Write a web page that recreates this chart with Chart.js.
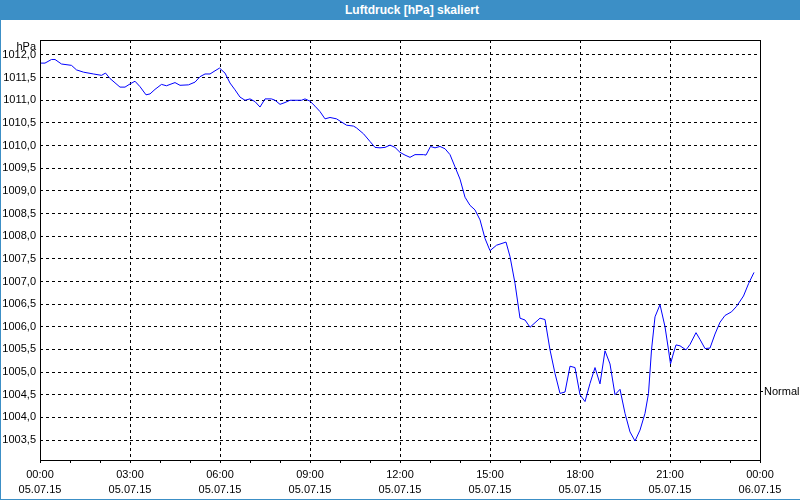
<!DOCTYPE html>
<html>
<head>
<meta charset="utf-8">
<script src="https://cdn.jsdelivr.net/npm/chart.js@4/dist/chart.umd.min.js"></script>
<style>
    body { margin: 0; background: #ffffff; }
    #wrap { position: relative; width: 800px; height: 500px; background: #ffffff; overflow: hidden; }
    #titlebar {
        position: absolute; left: 0; top: 0; width: 800px; height: 20px;
        background: #3c8fc6; color: #ffffff; text-align: center;
        font: bold 12px 'Liberation Sans', Arial, sans-serif; line-height: 20px;
        box-sizing: border-box; padding-left: 24px;
    }
    #myChart { position: absolute; left: 0; top: 20px; }
    #edgeLeft { position: absolute; left: 0; top: 20px; width: 1px; height: 480px; background: #3c8fc6; }
    #edgeBottom { position: absolute; left: 0; top: 499px; width: 800px; height: 1px; background: #3c8fc6; }
</style>
</head>
<body>
<div id="wrap">
    <div id="titlebar">Luftdruck [hPa] skaliert</div>
    <canvas id="myChart" width="800" height="479"></canvas>
    <div id="edgeLeft"></div>
    <div id="edgeBottom"></div>
</div>
<script>
// minutes since 05.07.15 00:00
var minutes = [
    0, 10, 23, 30, 43, 63, 73, 87, 107, 123, 131, 140, 160, 170, 180, 190, 200, 212, 220, 230,
    243, 253, 270, 280, 297, 310, 320, 330, 340, 350, 359,
    370, 380, 390, 400, 410, 420, 430, 440, 450, 463, 470, 480, 490, 500, 523, 530, 540, 550,
    560, 570, 580, 593, 603, 613, 627, 633, 647, 660, 670, 680, 690, 700, 710, 720,
    730, 740, 750, 767, 772, 781, 790, 800, 810, 820, 830, 840, 850, 860, 870, 880, 890, 900,
    913, 932, 940, 950, 960, 970, 980, 990, 1000, 1010, 1020, 1030, 1040, 1050, 1060, 1070, 1080,
    1090, 1100, 1110, 1120, 1130, 1140, 1150, 1160, 1170, 1180, 1190, 1200, 1210, 1217, 1223,
    1230, 1240, 1250, 1257, 1261, 1267, 1272, 1280, 1292, 1300, 1312, 1320, 1330, 1340, 1350,
    1360, 1370, 1383, 1393, 1407, 1417, 1428
];
var pressure = [
    1011.82, 1011.82, 1011.90, 1011.90, 1011.80, 1011.77, 1011.67, 1011.62, 1011.58, 1011.55,
    1011.60, 1011.48, 1011.29, 1011.29, 1011.36, 1011.42, 1011.30, 1011.12, 1011.14, 1011.24,
    1011.35, 1011.32, 1011.39, 1011.33, 1011.34, 1011.40, 1011.52, 1011.58, 1011.58, 1011.65, 1011.71,
    1011.60, 1011.38, 1011.23, 1011.07, 1011.00, 1011.03, 1010.97, 1010.85, 1011.03, 1011.03,
    1011.00, 1010.91, 1010.95, 1011.00, 1011.00, 1011.03, 1010.98, 1010.87,
    1010.75, 1010.59, 1010.62, 1010.59, 1010.52, 1010.45, 1010.43, 1010.39, 1010.26, 1010.09,
    1009.96, 1009.95, 1009.96, 1010.01, 1009.96, 1009.85,
    1009.79, 1009.74, 1009.80, 1009.80, 1009.79, 1009.98, 1009.95, 1009.98, 1009.93, 1009.80,
    1009.53, 1009.26, 1008.86, 1008.68, 1008.58, 1008.36, 1007.95, 1007.68,
    1007.80, 1007.87, 1007.55, 1006.96, 1006.19, 1006.15, 1005.99, 1006.09, 1006.19, 1006.16,
    1005.49, 1004.97, 1004.53, 1004.56, 1005.13, 1005.10, 1004.50,
    1004.35, 1004.75, 1005.10, 1004.74, 1005.47, 1005.18, 1004.50, 1004.62, 1004.09, 1003.68,
    1003.48, 1003.72, 1004.09, 1004.53, 1005.49,
    1006.22, 1006.49, 1006.00, 1005.49, 1005.18, 1005.42, 1005.60, 1005.58, 1005.49, 1005.61,
    1005.87, 1005.72, 1005.52, 1005.53, 1005.84,
    1006.10, 1006.25, 1006.33, 1006.45, 1006.68, 1006.95, 1007.20
];

// axis ticks
var yTicks = [1003.5, 1004.0, 1004.5, 1005.0, 1005.5, 1006.0, 1006.5, 1007.0, 1007.5,
    1008.0, 1008.5, 1009.0, 1009.5, 1010.0, 1010.5, 1011.0, 1011.5, 1012.0];
var yMin = 1003.06;
var yMax = 1012.33;
var xTimes = ['00:00', '03:00', '06:00', '09:00', '12:00', '15:00', '18:00', '21:00', '00:00'];
var xDates = ['05.07.15', '05.07.15', '05.07.15', '05.07.15', '05.07.15', '05.07.15', '05.07.15', '05.07.15', '06.07.15'];
var normalValue = 1004.57;
var normalLabel = 'Normal';
var unitLabel = 'hPa';

var points = [];
for (var i = 0; i < minutes.length; i++) {
    points.push({x: minutes[i], y: pressure[i]});
}

Chart.defaults.font.family = "'Liberation Sans', Arial, sans-serif";
Chart.defaults.font.size = 11;
Chart.defaults.color = '#000000';

// frame round the plot + unit label
var framePlugin = {
    id: 'frame',
    afterDatasetsDraw: function (chart) {
        var a = chart.chartArea;
        var ctx = chart.ctx;
        ctx.save();
        ctx.strokeStyle = '#000000';
        ctx.lineWidth = 1;
        ctx.setLineDash([]);
        ctx.strokeRect(a.left + 0.5, a.top + 0.5, a.right - a.left, a.bottom - a.top);
        ctx.fillStyle = '#000000';
        ctx.font = "11px 'Liberation Sans', Arial, sans-serif";
        ctx.textAlign = 'right';
        ctx.textBaseline = 'alphabetic';
        ctx.fillText(unitLabel, a.left - 4, a.top + 10);
        ctx.restore();
    }
};

var ctx = document.getElementById("myChart");
var myChart = new Chart(ctx, {
    type: 'line',
    data: {
        datasets: [{
                label: 'Luftdruck',
                data: points,
                borderColor: '#0000ff',
                borderWidth: 1,
                pointRadius: 0,
                tension: 0,
                fill: false
            }]
    },
    options: {
        responsive: false,
        animation: false,
        devicePixelRatio: 1,
        layout: {padding: {top: 20, left: 0, right: 0, bottom: 0}},
        plugins: {legend: {display: false}, tooltip: {enabled: false}, title: {display: false}},
        scales: {
            x: {
                type: 'linear',
                min: 0,
                max: 1440,
                afterFit: function (scale) { scale.height = 39; },
                afterBuildTicks: function (scale) {
                    var t = [];
                    for (var m = 0; m <= 1440; m += 60) t.push({value: m});
                    scale.ticks = t;
                },
                border: {display: false, dash: [3, 3]},
                grid: {
                    color: function (c) {
                        return (c.tick && c.tick.value % 180 === 0) ? '#000000' : 'rgba(0,0,0,0)';
                    },
                    lineWidth: 1,
                    drawTicks: true,
                    tickLength: 3,
                    tickColor: '#000000',
                    tickBorderDash: []
                },
                ticks: {
                    autoSkip: false,
                    maxRotation: 0,
                    padding: 4,
                    font: {size: 11, lineHeight: '15px'},
                    callback: function (v) {
                        if (v % 180 !== 0) return '';
                        var k = v / 180;
                        return [xTimes[k], xDates[k]];
                    }
                }
            },
            y: {
                position: 'left',
                min: yMin,
                max: yMax,
                afterFit: function (scale) { scale.width = 40; },
                afterBuildTicks: function (scale) {
                    scale.ticks = yTicks.map(function (v) { return {value: v}; });
                },
                border: {display: false, dash: [3, 3]},
                grid: {color: '#000000', lineWidth: 1, drawTicks: false},
                ticks: {
                    padding: 4,
                    callback: function (v) { return v.toFixed(1).replace('.', ','); }
                }
            },
            y2: {
                position: 'right',
                min: yMin,
                max: yMax,
                afterFit: function (scale) { scale.width = 40; },
                afterBuildTicks: function (scale) {
                    scale.ticks = [{value: normalValue}];
                },
                border: {display: false},
                grid: {drawOnChartArea: false, drawTicks: true, tickLength: 3, color: '#000000'},
                ticks: {
                    padding: 1,
                    callback: function () { return normalLabel; }
                }
            }
        }
    },
    plugins: [framePlugin]
});
</script>
</body>
</html>
